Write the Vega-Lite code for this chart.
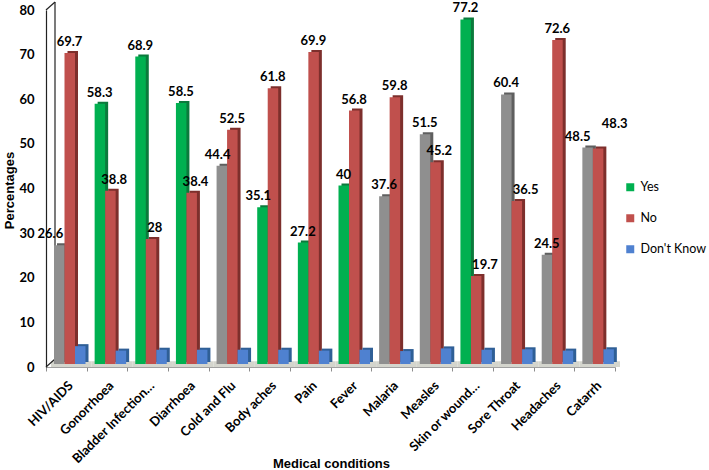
{"$schema":"https://vega.github.io/schema/vega-lite/v6.json","width":569,"height":357,"autosize":"none","padding":{"left":46,"top":10,"right":94,"bottom":103},"background":"white","datasets":{"main":[
{"condition":"HIV/AIDS","series":"Yes","style":"Yes (patterned)","value":26.6,"label":"26.6"},{"condition":"HIV/AIDS","series":"No","style":"No","value":69.7,"label":"69.7"},{"condition":"HIV/AIDS","series":"Don't Know","style":"Don't Know","value":4},
{"condition":"Gonorrhoea","series":"Yes","style":"Yes","value":58.3,"label":"58.3"},{"condition":"Gonorrhoea","series":"No","style":"No","value":38.8,"label":"38.8"},{"condition":"Gonorrhoea","series":"Don't Know","style":"Don't Know","value":3},
{"condition":"Bladder Infection…","series":"Yes","style":"Yes","value":68.9,"label":"68.9"},{"condition":"Bladder Infection…","series":"No","style":"No","value":28,"label":"28"},{"condition":"Bladder Infection…","series":"Don't Know","style":"Don't Know","value":3.2},
{"condition":"Diarrhoea","series":"Yes","style":"Yes","value":58.5,"label":"58.5"},{"condition":"Diarrhoea","series":"No","style":"No","value":38.4,"label":"38.4"},{"condition":"Diarrhoea","series":"Don't Know","style":"Don't Know","value":3.2},
{"condition":"Cold and Flu","series":"Yes","style":"Yes (patterned)","value":44.4,"label":"44.4"},{"condition":"Cold and Flu","series":"No","style":"No","value":52.5,"label":"52.5"},{"condition":"Cold and Flu","series":"Don't Know","style":"Don't Know","value":3.2},
{"condition":"Body aches","series":"Yes","style":"Yes","value":35.1,"label":"35.1"},{"condition":"Body aches","series":"No","style":"No","value":61.8,"label":"61.8"},{"condition":"Body aches","series":"Don't Know","style":"Don't Know","value":3.2},
{"condition":"Pain","series":"Yes","style":"Yes","value":27.2,"label":"27.2"},{"condition":"Pain","series":"No","style":"No","value":69.9,"label":"69.9"},{"condition":"Pain","series":"Don't Know","style":"Don't Know","value":3},
{"condition":"Fever","series":"Yes","style":"Yes","value":40,"label":"40"},{"condition":"Fever","series":"No","style":"No","value":56.8,"label":"56.8"},{"condition":"Fever","series":"Don't Know","style":"Don't Know","value":3.2},
{"condition":"Malaria","series":"Yes","style":"Yes (patterned)","value":37.6,"label":"37.6"},{"condition":"Malaria","series":"No","style":"No","value":59.8,"label":"59.8"},{"condition":"Malaria","series":"Don't Know","style":"Don't Know","value":2.9},
{"condition":"Measles","series":"Yes","style":"Yes (patterned)","value":51.5,"label":"51.5"},{"condition":"Measles","series":"No","style":"No","value":45.2,"label":"45.2"},{"condition":"Measles","series":"Don't Know","style":"Don't Know","value":3.5},
{"condition":"Skin or wound…","series":"Yes","style":"Yes","value":77.2,"label":"77.2"},{"condition":"Skin or wound…","series":"No","style":"No","value":19.7,"label":"19.7"},{"condition":"Skin or wound…","series":"Don't Know","style":"Don't Know","value":3.2},
{"condition":"Sore Throat","series":"Yes","style":"Yes (patterned)","value":60.4,"label":"60.4"},{"condition":"Sore Throat","series":"No","style":"No","value":36.5,"label":"36.5"},{"condition":"Sore Throat","series":"Don't Know","style":"Don't Know","value":3.3},
{"condition":"Headaches","series":"Yes","style":"Yes (patterned)","value":24.5,"label":"24.5"},{"condition":"Headaches","series":"No","style":"No","value":72.6,"label":"72.6"},{"condition":"Headaches","series":"Don't Know","style":"Don't Know","value":3},
{"condition":"Catarrh","series":"Yes","style":"Yes (patterned)","value":48.5,"label":"48.5"},{"condition":"Catarrh","series":"No","style":"No","value":48.3,"label":"48.3"},{"condition":"Catarrh","series":"Don't Know","style":"Don't Know","value":3.3}
],"cats":[{"condition":"HIV/AIDS","floor":1.3,"zero":0},{"condition":"Gonorrhoea","floor":1.3,"zero":0},{"condition":"Bladder Infection…","floor":1.3,"zero":0},{"condition":"Diarrhoea","floor":1.3,"zero":0},{"condition":"Cold and Flu","floor":1.3,"zero":0},{"condition":"Body aches","floor":1.3,"zero":0},{"condition":"Pain","floor":1.3,"zero":0},{"condition":"Fever","floor":1.3,"zero":0},{"condition":"Malaria","floor":1.3,"zero":0},{"condition":"Measles","floor":1.3,"zero":0},{"condition":"Skin or wound…","floor":1.3,"zero":0},{"condition":"Sore Throat","floor":1.3,"zero":0},{"condition":"Headaches","floor":1.3,"zero":0},{"condition":"Catarrh","floor":1.3,"zero":0}],"wall":[{"condition":"HIV/AIDS","lo":0,"hi":80}]},
"data":{"name":"main"},
"config":{"view":{"stroke":null},"axisX":{"titleFont":"Liberation Sans","titleFontWeight":"bold","titleFontSize":13,"titleColor":"black","titleX":285,"titleY":96,"titleBaseline":"middle","labelAngle":-45,"labelAlign":"right","labelBaseline":"top","labelFont":"Lato","labelFontWeight":"bold","labelFontSize":13,"labelColor":"black","labelPadding":8,"tickBand":"extent","tickColor":"#8c8c8c","tickSize":4,"domainColor":"#a0a0a0","labelOverlap":false,"grid":false}},
"encoding":{"x":{"field":"condition","type":"nominal","sort":null,"title":"Medical conditions","scale":{"paddingInner":0,"paddingOuter":0}},
"y":{"field":"value","type":"quantitative","scale":{"domain":[0,80],"nice":false},"axis":{"title":"Percentages","titleFont":"Liberation Sans","titleFontWeight":"bold","titleFontSize":13,"titleColor":"black","titleX":-37,"titleY":180,"titleBaseline":"middle","values":[0,10,20,30,40,50,60,70,80],"labelFont":"Lato","labelFontWeight":"bold","labelFontSize":13,"labelColor":"black","labelPadding":12,"tickSize":0,"domainColor":"#222222","domainWidth":1.2,"grid":false}}},
"layer":[
{"data":{"name":"cats"},"mark":{"type":"bar","color":"#d4d5cd","xOffset":5},"encoding":{"width":{"band":1},"y":{"field":"zero","type":"quantitative"},"y2":{"field":"floor"}}},
{"data":{"name":"wall"},"mark":{"type":"rule","color":"#222222","strokeWidth":1.2,"xOffset":9,"yOffset":-8,"y2Offset":-8},"encoding":{"x":{"field":"condition","type":"nominal","sort":null,"title":"Medical conditions","bandPosition":0},"y":{"field":"lo","type":"quantitative"},"y2":{"field":"hi"}}},
{"data":{"name":"wall"},"mark":{"type":"rule","color":"#222222","strokeWidth":1.2,"x2Offset":-11.3,"y2Offset":-8},"encoding":{"x":{"field":"condition","type":"nominal","sort":null,"title":"Medical conditions","bandPosition":0},"x2":{"field":"condition"},"y":{"field":"hi","type":"quantitative"},"y2":{"field":"hi"}}},
{"data":{"name":"wall"},"mark":{"type":"rule","color":"#222222","strokeWidth":1.2,"x2Offset":-11.3,"y2Offset":-8},"encoding":{"x":{"field":"condition","type":"nominal","sort":null,"title":"Medical conditions","bandPosition":0},"x2":{"field":"condition"},"y":{"field":"lo","type":"quantitative"},"y2":{"field":"lo"}}},
{"mark":{"type":"bar","yOffset":-5,"width":10.5},"encoding":{"xOffset":{"field":"series","type":"nominal","sort":["Yes","No","Don't Know"],"scale":{"range":[11,42.5],"paddingInner":0,"paddingOuter":0}},"color":{"field":"style","type":"nominal","legend":null,"scale":{"domain":["Yes","Yes (patterned)","No","Don't Know"],"range":["#0b7a3c","#5f5f5f","#7d2f2c","#2f5f96"]}}}},
{"mark":{"type":"bar","yOffset":-3,"width":10.5},"encoding":{"xOffset":{"field":"series","type":"nominal","sort":["Yes","No","Don't Know"],"scale":{"range":[8,39.5],"paddingInner":0,"paddingOuter":0}},"color":{"field":"style","type":"nominal","scale":{"domain":["Yes","Yes (patterned)","No","Don't Know"],"range":["#00b050","#8f8f8f","#c0504d","#4f81d0"]},"legend":{"title":null,"orient":"none","legendX":578,"legendY":171,"values":["Yes","No","Don't Know"],"symbolType":"square","symbolSize":64,"symbolStrokeWidth":0,"labelFont":"Lato","labelFontSize":12.5,"labelColor":"black","labelOffset":4,"rowPadding":18}}}},
{"transform":[{"filter":"datum.series=='Yes' && indexof(['26.6','48.5','44.4','35.1'],datum.label)<0"}],"mark":{"type":"text","font":"Lato","fontWeight":"bold","fontSize":13,"color":"black","yOffset":-14,"dx":-7.3},"encoding":{"text":{"field":"label"}}},
{"transform":[{"filter":"datum.series=='No' && indexof(['48.3','38.8','28','38.4','45.2','19.7','36.5'],datum.label)<0"}],"mark":{"type":"text","font":"Lato","fontWeight":"bold","fontSize":13,"color":"black","yOffset":-14,"dx":3.2},"encoding":{"text":{"field":"label"}}},
{"transform":[{"filter":"datum.label=='26.6'"}],"mark":{"type":"text","font":"Lato","fontWeight":"bold","fontSize":13,"color":"black","yOffset":-14,"dx":-16},"encoding":{"text":{"field":"label"}}},
{"transform":[{"filter":"datum.label=='48.3'"}],"mark":{"type":"text","font":"Lato","fontWeight":"bold","fontSize":13,"color":"black","yOffset":-27,"dx":20},"encoding":{"text":{"field":"label"}}},
{"transform":[{"filter":"datum.label=='48.5'"}],"mark":{"type":"text","font":"Lato","fontWeight":"bold","fontSize":13,"color":"black","yOffset":-14,"dx":-17},"encoding":{"text":{"field":"label"}}},
{"transform":[{"filter":"indexof(['38.8','28','38.4','45.2'],datum.label)>=0"}],"mark":{"type":"text","font":"Lato","fontWeight":"bold","fontSize":13,"color":"black","yOffset":-14,"dx":7.2},"encoding":{"text":{"field":"label"}}},
{"transform":[{"filter":"indexof(['44.4','35.1'],datum.label)>=0"}],"mark":{"type":"text","font":"Lato","fontWeight":"bold","fontSize":13,"color":"black","yOffset":-14,"dx":-11.3},"encoding":{"text":{"field":"label"}}},
{"transform":[{"filter":"indexof(['19.7','36.5'],datum.label)>=0"}],"mark":{"type":"text","font":"Lato","fontWeight":"bold","fontSize":13,"color":"black","yOffset":-14,"dx":12.2},"encoding":{"text":{"field":"label"}}}
],
"resolve":{"scale":{"color":"independent","xOffset":"independent"}}}
